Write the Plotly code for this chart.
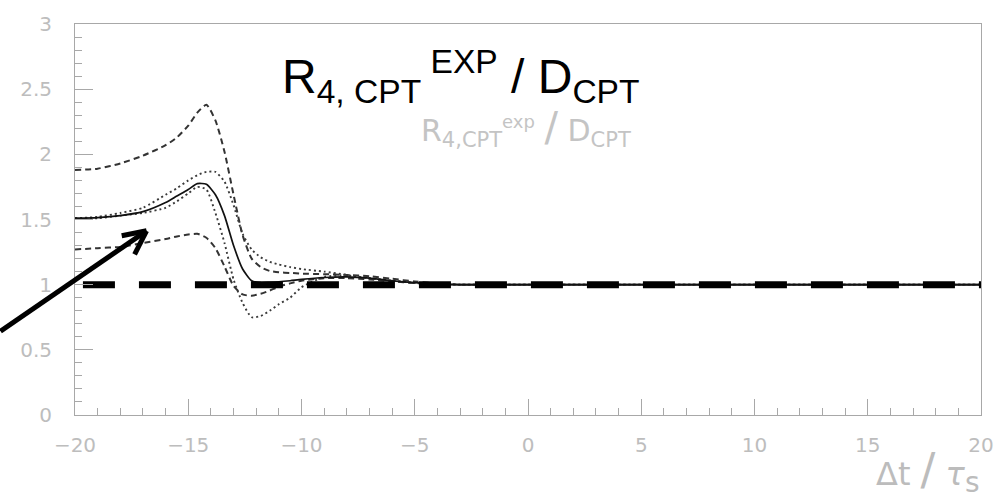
import plotly.graph_objects as go

# ---- data ----
x_dt = [-20, -19, -18, -17, -16, -15.5, -15, -14.6, -14.2, -13.8, -13.4, -13.0,
        -12.6, -12.2, -11.8, -11.4, -11.0, -10.5, -10, -9, -8, -7, -6, -5, -4,
        -3, 0, 5, 10, 15, 20]

central = [1.51, 1.515, 1.53, 1.56, 1.63, 1.68, 1.73, 1.775, 1.77, 1.69, 1.53, 1.30,
           1.12, 1.03, 1.015, 1.018, 1.022, 1.03, 1.04, 1.055, 1.06, 1.05, 1.03, 1.015, 1.005,
           1.0, 1.0, 1.0, 1.0, 1.0, 1.0]

upper_dash = [1.88, 1.89, 1.93, 1.99, 2.07, 2.13, 2.22, 2.32, 2.38, 2.26, 2.02, 1.69,
              1.38, 1.20, 1.135, 1.105, 1.095, 1.09, 1.085, 1.08, 1.075, 1.065, 1.045, 1.025, 1.01,
              1.0, 1.0, 1.0, 1.0, 1.0, 1.0]

lower_dash = [1.27, 1.28, 1.29, 1.32, 1.35, 1.37, 1.385, 1.39, 1.36, 1.28, 1.14, 0.99,
              0.925, 0.915, 0.93, 0.955, 0.985, 1.01, 1.03, 1.05, 1.05, 1.04, 1.025, 1.012, 1.004,
              1.0, 1.0, 1.0, 1.0, 1.0, 1.0]

upper_dot = [1.51, 1.52, 1.55, 1.59, 1.69, 1.74, 1.80, 1.84, 1.865, 1.865, 1.79, 1.61,
             1.39, 1.27, 1.21, 1.175, 1.155, 1.135, 1.12, 1.10, 1.075, 1.05, 1.03, 1.015, 1.005,
             1.0, 1.0, 1.0, 1.0, 1.0, 1.0]

lower_dot = [1.51, 1.51, 1.53, 1.55, 1.59, 1.64, 1.70, 1.75, 1.73, 1.55, 1.32, 1.04,
             0.86, 0.75, 0.76, 0.80, 0.85, 0.90, 0.98, 1.06, 1.07, 1.05, 1.03, 1.015, 1.005,
             1.0, 1.0, 1.0, 1.0, 1.0, 1.0]

ref_x = [-19.65, 20]
ref_y = [1, 1]

x_ticks = [-20, -15, -10, -5, 0, 5, 10, 15, 20]
y_ticks = [0, 0.5, 1, 1.5, 2, 2.5, 3]

# ---- figure ----
W, H = 1006, 502
ML, MR, MT, MB = 75, 19, 18, 87
PW, PH = W - ML - MR, H - MT - MB


def px(xp):
    return (xp - ML) / PW


def py(yp):
    return (H - MB - yp) / PH


fig = go.Figure()

fig.add_trace(go.Scatter(x=x_dt, y=upper_dash, mode="lines",
                         line=dict(color="#333333", width=2, dash="6px,4px", shape="spline", smoothing=0.6)))
fig.add_trace(go.Scatter(x=x_dt, y=lower_dash, mode="lines",
                         line=dict(color="#333333", width=2, dash="6px,4px", shape="spline", smoothing=0.6)))
fig.add_trace(go.Scatter(x=x_dt, y=upper_dot, mode="lines",
                         line=dict(color="#3a3a3a", width=1.9, dash="2px,3px", shape="spline", smoothing=0.6)))
fig.add_trace(go.Scatter(x=x_dt, y=lower_dot, mode="lines",
                         line=dict(color="#3a3a3a", width=1.9, dash="2px,3px", shape="spline", smoothing=0.6)))
fig.add_trace(go.Scatter(x=x_dt, y=central, mode="lines",
                         line=dict(color="#111111", width=1.7, shape="spline", smoothing=0.6)))
fig.add_trace(go.Scatter(x=ref_x, y=ref_y, mode="lines",
                         line=dict(color="#000000", width=7, dash="32px,24px")))

TICKFONT = dict(family="DejaVu Sans, sans-serif", size=20, color="#bdbdbd")
axis_common = dict(
    showgrid=False, zeroline=False, showline=True, linecolor="#a8a8a8", linewidth=1,
    mirror=True, ticks="inside", tickcolor="#a8a8a8", tickwidth=1, tickfont=TICKFONT,
)

fig.update_xaxes(range=[-20, 20], tickvals=x_ticks, ticklen=16,
                 minor=dict(dtick=1, ticks="inside", ticklen=7, tickcolor="#a8a8a8", showgrid=False),
                 ticklabelstandoff=12, **axis_common)
fig.update_yaxes(range=[0, 3], tickvals=y_ticks, ticklen=18,
                 minor=dict(dtick=0.1, ticks="inside", ticklen=7, tickcolor="#a8a8a8", showgrid=False),
                 ticklabelstandoff=18, **axis_common)

shapes = []
arrow_col = "#000000"
tail = (0, 330)
tip = (147, 228)
arm1 = (122, 233)
arm2 = (135, 252)
for a, b in [(tail, tip), (arm1, tip), (arm2, tip)]:
    shapes.append(dict(type="line", xref="paper", yref="paper",
                       x0=px(a[0]), y0=py(a[1]), x1=px(b[0]), y1=py(b[1]),
                       line=dict(color=arrow_col, width=5)))

GREY = "#c4c4c4"
annotations = [
    dict(text="R<sub>4, CPT</sub><sup> EXP</sup> / D<sub>CPT</sub>",
         xref="paper", yref="paper", x=px(281), y=py(35), xanchor="left", yanchor="top",
         showarrow=False, font=dict(family="Liberation Sans, Arial, sans-serif", size=48, color="#000000")),
    dict(text="R<sub>4,CPT</sub><sup><span style='font-size:18px'>exp</span></sup> "
              "<span style='font-size:40px'>/</span> D<sub>CPT</sub>",
         xref="paper", yref="paper", x=px(421), y=py(97), xanchor="left", yanchor="top",
         showarrow=False, font=dict(family="DejaVu Sans, sans-serif", size=30, color=GREY)),
    dict(text="Δt <span style='font-size:44px'>/</span> <i>τ</i><sub><span style='font-size:28px'>s</span></sub>",
         xref="paper", yref="paper", x=px(987), y=py(442), xanchor="right", yanchor="top",
         showarrow=False, font=dict(family="DejaVu Sans, sans-serif", size=32, color="#bcbcbc")),
]

fig.update_layout(
    width=W, height=H, margin=dict(l=ML, r=MR, t=MT, b=MB),
    paper_bgcolor="white", plot_bgcolor="white", showlegend=False,
    shapes=shapes, annotations=annotations,
)

fig.write_html("out.html")
